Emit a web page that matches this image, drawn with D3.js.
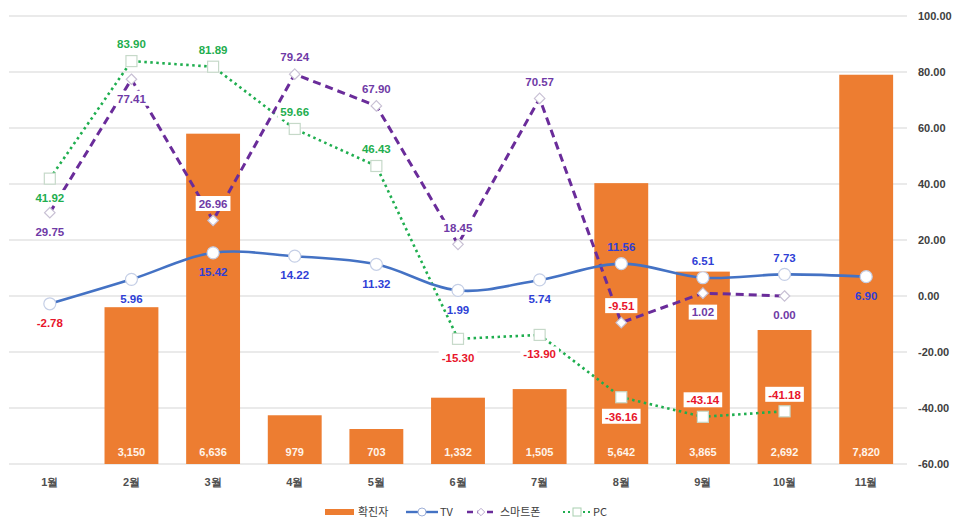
<!DOCTYPE html>
<html>
<head>
<meta charset="utf-8">
<script src="https://cdn.jsdelivr.net/npm/d3@7"></script>
<style>
  html, body { margin: 0; padding: 0; background: #ffffff; }
  svg { display: block; font-family: "Noto Sans CJK KR", "Noto Sans", sans-serif; }
</style>
</head>
<body>
<svg id="chart" width="958" height="519"></svg>
<script>
// Monthly figures
const months = ["1월", "2월", "3월", "4월", "5월", "6월", "7월", "8월", "9월", "10월", "11월"];
const confirmed = [null, 3150, 6636, 979, 703, 1332, 1505, 5642, 3865, 2692, 7820];
const tv = [-2.78, 5.96, 15.42, 14.22, 11.32, 1.99, 5.74, 11.56, 6.51, 7.73, 6.90];
const smartphone = [29.75, 77.41, 26.96, 79.24, 67.90, 18.45, 70.57, -9.51, 1.02, 0.00, null];
const pc = [41.92, 83.90, 81.89, 59.66, 46.43, -15.30, -13.90, -36.16, -43.14, -41.18, null];
const rightTicks = [100, 80, 60, 40, 20, 0, -20, -40, -60];

// Label placement per point: "a" above, "b" below
const tvPlace = ["b", "b", "b", "b", "b", "b", "b", "a", "a", "a", "b"];
const phonePlace = ["b", "b", "a", "a", "a", "a", "a", "a", "b", "b", null];
const pcPlace = ["b", "a", "a", "a", "a", "b", "b", "b", "a", "a", null];

const svg = d3.select("#chart");

const x = d3.scaleBand().domain(months).range([9, 907]).paddingInner(0.34).paddingOuter(0.17);
const yR = d3.scaleLinear().domain([-60, 100]).range([464, 16]);
const yL = d3.scaleLinear().domain([0, 9000]).range([464, 16]);
const cx = m => x(m) + x.bandwidth() / 2;

// Two-decimal format with a plain hyphen for negatives
const fmt2 = v => d3.format(".2f")(v).replace("\u2212", "-");

const RED = "#e8152b";
const TVC = "#4472c4", TVT = "#2f3fd6";
const PHC = "#6a2c9a", PHT = "#6f3aa6";
const PCC = "#1fae4f", PCT = "#1fae4f";
const NUMFONT = "'Liberation Sans', 'Noto Sans', sans-serif";

// Grid lines
svg.append("g").selectAll("line").data(rightTicks).join("line")
  .attr("x1", 9).attr("x2", 907)
  .attr("y1", d => yR(d)).attr("y2", d => yR(d))
  .attr("stroke", "#e3e3e3").attr("stroke-width", 1.3);

// Right axis
const axisR = d3.axisRight(yR).tickValues(rightTicks).tickFormat(fmt2).tickSize(0).tickPadding(0);
const gR = svg.append("g").attr("transform", "translate(918,0)").call(axisR);
gR.select(".domain").remove();
gR.selectAll("text").attr("fill", "#404040").attr("font-size", 11).attr("font-weight", "bold")
  .attr("font-family", NUMFONT);

// Bottom axis
const axisB = d3.axisBottom(x).tickSize(0).tickPadding(0);
const gB = svg.append("g").attr("transform", "translate(0,478)").call(axisB);
gB.select(".domain").remove();
gB.selectAll("text").attr("fill", "#505050").attr("font-size", 11).attr("font-weight", "bold");

// Bars
const barData = months.map((m, i) => ({ m, v: confirmed[i] })).filter(d => d.v != null);
svg.append("g").selectAll("rect").data(barData).join("rect")
  .attr("x", d => x(d.m)).attr("width", x.bandwidth())
  .attr("y", d => yL(d.v)).attr("height", d => yL(0) - yL(d.v))
  .attr("fill", "#ed7d31");
svg.append("g").selectAll("text").data(barData).join("text")
  .attr("x", d => cx(d.m)).attr("y", 456)
  .attr("text-anchor", "middle").attr("fill", "#fff4ea")
  .attr("font-size", 11).attr("font-weight", "bold")
  .attr("font-family", NUMFONT)
  .text(d => d3.format(",")(d.v));

function series(vals) {
  return months.map((m, i) => ({ m, v: vals[i], i })).filter(d => d.v != null);
}

// Lines
const tvData = series(tv), phData = series(smartphone), pcData = series(pc);
const lineStraight = d3.line().x(d => cx(d.m)).y(d => yR(d.v));
const lineSmooth = d3.line().x(d => cx(d.m)).y(d => yR(d.v)).curve(d3.curveCatmullRom.alpha(0.5));

svg.append("path").datum(pcData).attr("d", lineStraight)
  .attr("fill", "none").attr("stroke", PCC).attr("stroke-width", 2.6)
  .attr("stroke-dasharray", "2.5,3.5");
svg.append("path").datum(phData).attr("d", lineStraight)
  .attr("fill", "none").attr("stroke", PHC).attr("stroke-width", 3)
  .attr("stroke-dasharray", "8,5");
svg.append("path").datum(tvData).attr("d", lineSmooth)
  .attr("fill", "none").attr("stroke", TVC).attr("stroke-width", 2.6);

// Markers
svg.append("g").selectAll("rect").data(pcData).join("rect")
  .attr("x", d => cx(d.m) - 5.5).attr("y", d => yR(d.v) - 5.5)
  .attr("width", 11).attr("height", 11)
  .attr("fill", "#ffffff").attr("stroke", "#c6d9c9").attr("stroke-width", 1.2);
svg.append("g").selectAll("path").data(phData).join("path")
  .attr("d", d3.symbol().type(d3.symbolDiamond2).size(70))
  .attr("transform", d => `translate(${cx(d.m)},${yR(d.v)})`)
  .attr("fill", "#ffffff").attr("stroke", "#c8c0d4").attr("stroke-width", 1.2);
svg.append("g").selectAll("circle").data(tvData).join("circle")
  .attr("cx", d => cx(d.m)).attr("cy", d => yR(d.v)).attr("r", 6)
  .attr("fill", "#ffffff").attr("stroke", "#c5cfe6").attr("stroke-width", 1.2);

// Data labels; smartphone and PC labels sit on a white backing
function labels(data, place, filled, color) {
  const g = svg.append("g");
  data.forEach(d => {
    const yc = yR(d.v) + (place[d.i] === "a" ? -17 : 19);
    const fill = d.v < 0 ? RED : color;
    const bg = filled ? g.append("rect") : null;
    const t = g.append("text").attr("x", cx(d.m)).attr("y", yc + 4.3)
      .attr("text-anchor", "middle").attr("fill", fill)
      .attr("font-size", 11.5).attr("font-weight", "bold")
      .attr("font-family", NUMFONT)
      .text(fmt2(d.v));
    if (bg) {
      const w = t.node().getComputedTextLength() + 6;
      bg.attr("x", cx(d.m) - w / 2).attr("y", yc - 7.5)
        .attr("width", w).attr("height", 15)
        .attr("fill", "#ffffff");
    }
  });
}
labels(pcData, pcPlace, true, PCT);
labels(phData, phonePlace, true, PHT);
labels(tvData, tvPlace, false, TVT);

// Legend
const lg = svg.append("g").attr("font-size", 11).attr("fill", "#404040");
const ly = 512;
lg.append("rect").attr("x", 325).attr("y", ly - 3).attr("width", 29).attr("height", 6).attr("fill", "#ed7d31");
lg.append("text").attr("x", 358).attr("y", ly + 4).attr("fill", "#404040").text("확진자");

lg.append("line").attr("x1", 406).attr("x2", 438).attr("y1", ly).attr("y2", ly)
  .attr("stroke", TVC).attr("stroke-width", 2.4);
lg.append("circle").attr("cx", 422).attr("cy", ly).attr("r", 4)
  .attr("fill", "#fff").attr("stroke", "#9fb0d8").attr("stroke-width", 1);
lg.append("text").attr("x", 440).attr("y", ly + 4).attr("fill", "#404040").text("TV");

lg.append("line").attr("x1", 467).attr("x2", 495).attr("y1", ly).attr("y2", ly)
  .attr("stroke", PHC).attr("stroke-width", 2.6).attr("stroke-dasharray", "6,4");
lg.append("path").attr("d", d3.symbol().type(d3.symbolDiamond2).size(35))
  .attr("transform", `translate(481,${ly})`)
  .attr("fill", "#fff").attr("stroke", "#b8a8cc").attr("stroke-width", 1);
lg.append("text").attr("x", 500).attr("y", ly + 4).attr("fill", "#404040").text("스마트폰");

lg.append("line").attr("x1", 563).attr("x2", 591).attr("y1", ly).attr("y2", ly)
  .attr("stroke", PCC).attr("stroke-width", 2).attr("stroke-dasharray", "2,3");
lg.append("rect").attr("x", 573).attr("y", ly - 4).attr("width", 8).attr("height", 8)
  .attr("fill", "#fff").attr("stroke", "#a8cfb0").attr("stroke-width", 1);
lg.append("text").attr("x", 593).attr("y", ly + 4).attr("fill", "#404040").text("PC");
</script>
</body>
</html>
